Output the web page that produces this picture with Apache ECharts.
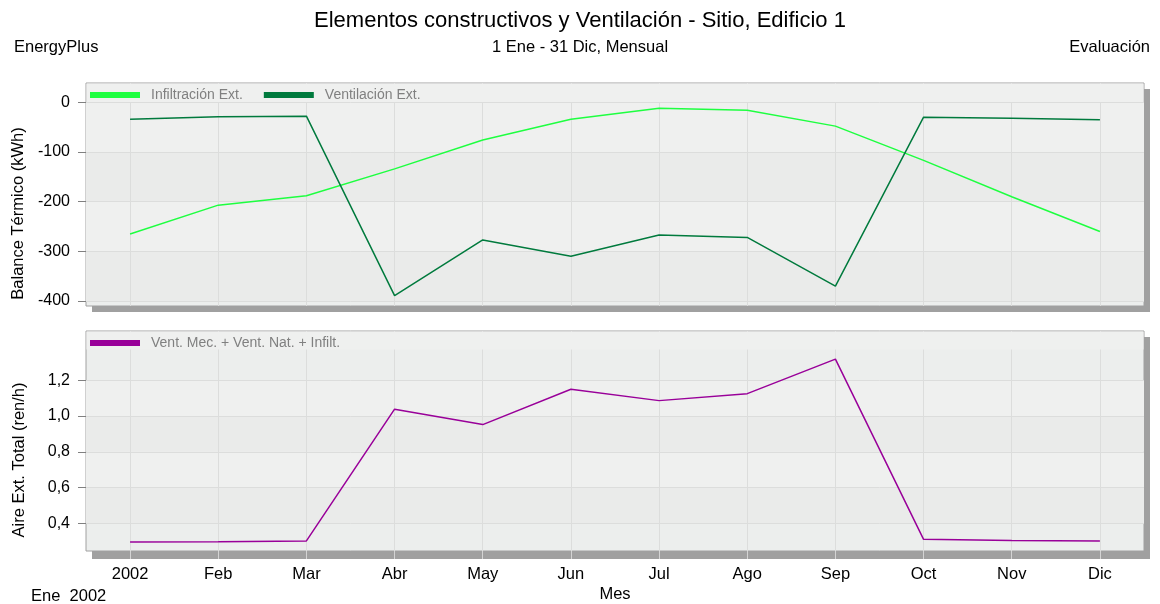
<!DOCTYPE html>
<html>
<head>
<meta charset="utf-8">
<script src="https://cdn.jsdelivr.net/npm/echarts@6/dist/echarts.min.js"></script>
<style>
  html, body { margin: 0; padding: 0; background: #fff; }
  #chart { width: 1160px; height: 604px; }
</style>
</head>
<body>
<div id="chart"></div>
<script>
// 月份（类目轴）
const months = ['2002', 'Feb', 'Mar', 'Abr', 'May', 'Jun', 'Jul', 'Ago', 'Sep', 'Oct', 'Nov', 'Dic'];

// 上图：热平衡 (kWh)
const infiltracion = [-265, -207, -188, -134, -76, -34, -12, -16, -48, -117, -190, -260];
const ventilacion = [-34, -29, -28, -389, -277, -310, -267, -272, -370, -30, -32, -35];

// 下图：换气次数 (ren/h)
const aireTotal = [0.295, 0.297, 0.301, 1.038, 0.952, 1.150, 1.086, 1.125, 1.318, 0.310, 0.304, 0.301];

// 刻度
const topTicks = [-400, -300, -200, -100, 0];
const bottomTicks = [0.4, 0.6, 0.8, 1.0, 1.2];

const FONT = 'Liberation Sans, Arial, sans-serif';

const chart = echarts.init(document.getElementById('chart'), null, { renderer: 'canvas' });

function plainTitle(text, pos, size) {
  return Object.assign({
    text: text,
    padding: 0,
    textStyle: { fontSize: size, fontWeight: 'normal', color: '#000', fontFamily: FONT }
  }, pos);
}

const yCommon = {
  type: 'value',
  axisLine: { show: false },
  axisTick: { show: true, length: 8, lineStyle: { color: '#808080' } },
  axisLabel: { fontSize: 16, color: '#000', fontFamily: FONT, margin: 16 },
  splitLine: { show: true, lineStyle: { color: '#dcdddc' } },
  splitArea: { show: true, areaStyle: { color: ['#eaebea', '#eff0ef'] } },
  nameLocation: 'middle',
  nameGap: 58,
  // 名称整体往下挪一点
  nameTextStyle: { fontSize: 16.5, color: '#000', fontFamily: FONT, padding: [0, 38, 0, 0] }
};

chart.setOption({
  backgroundColor: '#fff',
  animation: false,
  title: [
    plainTitle('Elementos constructivos y Ventilación - Sitio, Edificio 1', { left: 'center', top: 10 }, 22),
    plainTitle('EnergyPlus', { left: 14, top: 39 }, 16.5),
    plainTitle('1 Ene - 31 Dic, Mensual', { left: 'center', top: 39 }, 16.5),
    plainTitle('Evaluación', { right: 10, top: 39 }, 16.5),
    plainTitle('Ene  2002', { left: 31, top: 588 }, 16.5)
  ],
  legend: [
    {
      data: ['Infiltración Ext.', 'Ventilación Ext.'],
      left: 90, top: 88,
      icon: 'rect', itemWidth: 50, itemHeight: 6, itemGap: 21,
      padding: 0,
      textStyle: { fontSize: 14, color: '#808080', fontFamily: FONT, padding: [0, 0, 0, 6] }
    },
    {
      data: ['Vent. Mec. + Vent. Nat. + Infilt.'],
      left: 90, top: 336,
      icon: 'rect', itemWidth: 50, itemHeight: 6,
      padding: 0,
      textStyle: { fontSize: 14, color: '#808080', fontFamily: FONT, padding: [0, 0, 0, 6] }
    }
  ],
  grid: [
    { left: 86, right: 16, top: 83, height: 223, show: true, borderColor: '#a0a0a0', borderWidth: 1, backgroundColor: '#eceeed' },
    { left: 86, right: 16, top: 331, height: 222, show: true, borderColor: '#a0a0a0', borderWidth: 1, backgroundColor: '#eceeed' }
  ],
  xAxis: [
    {
      gridIndex: 0, type: 'category', data: months, boundaryGap: true,
      axisLine: { show: false }, axisTick: { show: false }, axisLabel: { show: false },
      splitLine: { show: true, alignWithLabel: true, lineStyle: { color: '#dcdddc' } }
    },
    {
      gridIndex: 1, type: 'category', data: months, boundaryGap: true,
      axisLine: { show: false },
      axisTick: { show: true, alignWithLabel: true, length: 8, lineStyle: { color: '#d4d4d4' } },
      axisLabel: { fontSize: 16.5, color: '#000', fontFamily: FONT, margin: 15 },
      splitLine: { show: true, alignWithLabel: true, lineStyle: { color: '#dcdddc' } },
      name: 'Mes', nameLocation: 'middle', nameGap: 35,
      nameTextStyle: { fontSize: 16.5, color: '#000', fontFamily: FONT }
    }
  ],
  yAxis: [
    Object.assign({}, yCommon, {
      gridIndex: 0, min: -410, max: 38.8,
      name: 'Balance Térmico (kWh)',
      axisTick: Object.assign({}, yCommon.axisTick, { customValues: topTicks }),
      axisLabel: Object.assign({}, yCommon.axisLabel, { customValues: topTicks })
    }),
    Object.assign({}, yCommon, {
      gridIndex: 1, min: 0.2448, max: 1.4755,
      name: 'Aire Ext. Total (ren/h)',
      axisTick: Object.assign({}, yCommon.axisTick, { customValues: bottomTicks }),
      axisLabel: Object.assign({}, yCommon.axisLabel, {
        customValues: bottomTicks,
        formatter: v => v.toFixed(1).replace('.', ',')
      })
    })
  ],
  graphic: [
    // 阴影
    { type: 'rect', z: -1, silent: true, shape: { x: 92, y: 89, width: 1058, height: 223 }, style: { fill: '#a0a0a0' } },
    { type: 'rect', z: -1, silent: true, shape: { x: 92, y: 337, width: 1058, height: 222 }, style: { fill: '#a0a0a0' } },
    // 图例条
    { type: 'rect', z: 1, silent: true, shape: { x: 86.5, y: 83.5, width: 1057, height: 18.5 }, style: { fill: '#eff0ef' } },
    { type: 'rect', z: 1, silent: true, shape: { x: 86.5, y: 331.5, width: 1057, height: 18 }, style: { fill: '#eff0ef' } }
  ],
  series: [
    {
      name: 'Infiltración Ext.', type: 'line', xAxisIndex: 0, yAxisIndex: 0,
      data: infiltracion, showSymbol: false, color: '#1eff40',
      lineStyle: { width: 1.5 }
    },
    {
      name: 'Ventilación Ext.', type: 'line', xAxisIndex: 0, yAxisIndex: 0,
      data: ventilacion, showSymbol: false, color: '#007a3d',
      lineStyle: { width: 1.5 }
    },
    {
      name: 'Vent. Mec. + Vent. Nat. + Infilt.', type: 'line', xAxisIndex: 1, yAxisIndex: 1,
      data: aireTotal, showSymbol: false, color: '#990099',
      lineStyle: { width: 1.5 }
    }
  ]
});
</script>
</body>
</html>
